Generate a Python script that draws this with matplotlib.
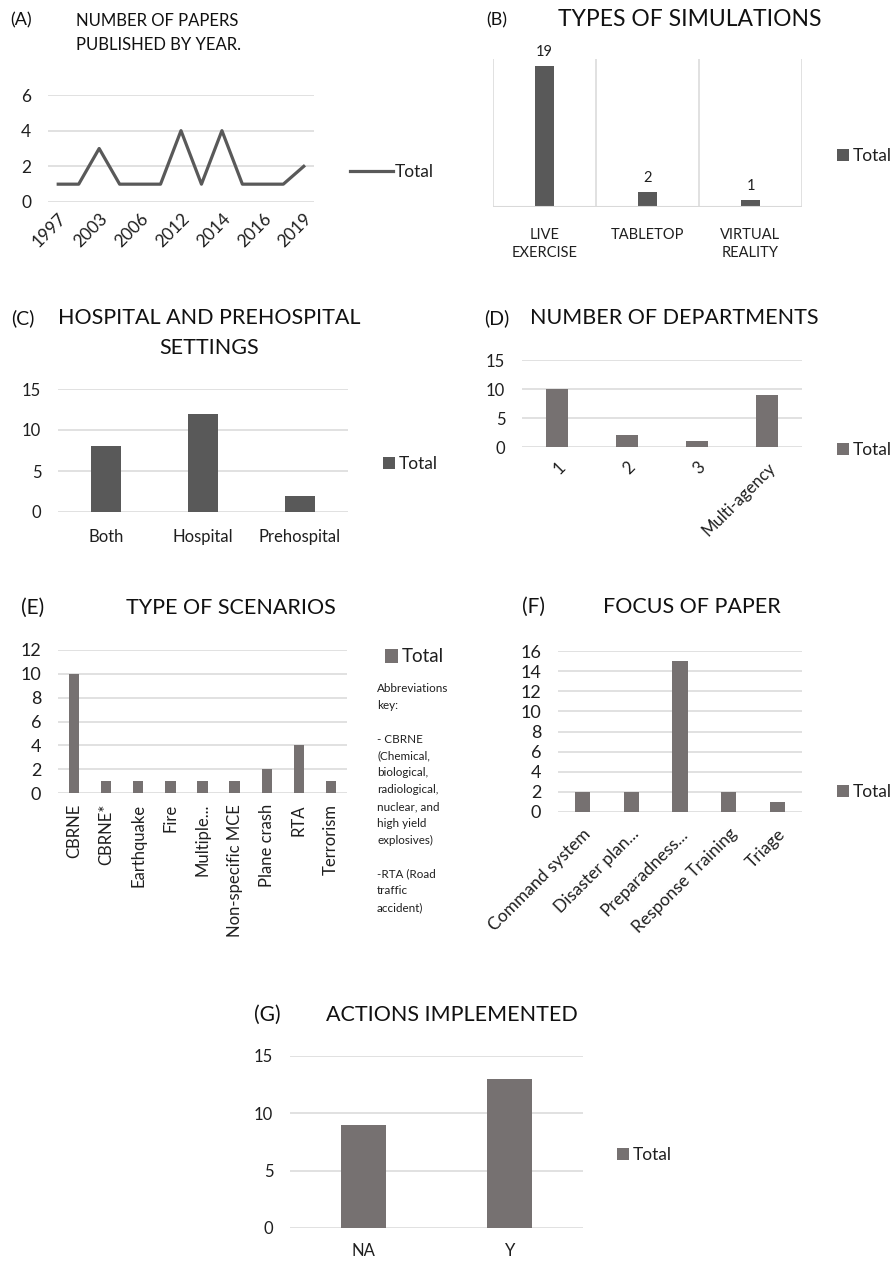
import numpy as np
import matplotlib
matplotlib.use('Agg')
import matplotlib.pyplot as plt

plt.rcParams['font.family'] = ['Lato', 'DejaVu Sans']

# ---- data ----
years = ['1997', '2001', '2003', '2005', '2006', '2010', '2012',
         '2013', '2014', '2015', '2016', '2018', '2019']
papers = [1, 1, 3, 1, 1, 1, 4, 1, 4, 1, 1, 1, 2]

sim_types = ['LIVE\nEXERCISE', 'TABLETOP', 'VIRTUAL\nREALITY']
sim_counts = [19, 2, 1]

settings = ['Both', 'Hospital', 'Prehospital']
settings_counts = [8, 12, 2]

departments = ['1', '2', '3', 'Multi-agency']
dept_counts = [10, 2, 1, 9]

scenarios = ['CBRNE', 'CBRNE*', 'Earthquake', 'Fire', 'Multiple...',
             'Non-specific MCE', 'Plane crash', 'RTA', 'Terrorism']
scenario_counts = [10, 1, 1, 1, 1, 1, 2, 4, 1]

focus = ['Command system', 'Disaster plan...', 'Preparadness...',
         'Response Training', 'Triage']
focus_counts = [2, 2, 15, 2, 1]

actions = ['NA', 'Y']
action_counts = [9, 13]

abbrev = ("Abbreviations\nkey:\n\n- CBRNE\n(Chemical,\nbiological,\n"
          "radiological,\nnuclear, and\nhigh yield\nexplosives)\n\n"
          "-RTA (Road\ntraffic\naccident)")

# ---- layout helpers ----
W, H = 891, 1261
DARK = '#595959'
BROWN = '#767171'
GRID = '#d9d9d9'
TXT = '#1f1f1f'

fig = plt.figure(figsize=(W / 100, H / 100), dpi=100)


def make_ax(left, top, right, bottom):
    return fig.add_axes([left / W, 1 - bottom / H, (right - left) / W, (bottom - top) / H])


def fx(x):
    return x / W


def fy(y):
    return 1 - y / H


def style(ax, ymax, step, tick_size=12):
    ax.set_ylim(0, ymax)
    ax.set_yticks(np.arange(0, ymax + 0.1, step))
    ax.yaxis.grid(True, color=GRID, lw=1.1)
    ax.set_axisbelow(True)
    for s in ax.spines.values():
        s.set_visible(False)
    ax.tick_params(length=0, labelsize=tick_size, colors=TXT)
    ax.tick_params(axis='y', pad=12)


def legend(ax, x, y, size=12.5):
    ax.legend(loc='center left', bbox_to_anchor=(fx(x), fy(y)),
              bbox_transform=fig.transFigure, frameon=False, fontsize=size,
              handlelength=0.7, handleheight=0.7, handletextpad=0.2,
              borderpad=0, borderaxespad=0, labelcolor=TXT)


def title(x, y, txt, size=13, ha='center'):
    fig.text(fx(x), fy(y), txt, ha=ha, va='center', fontsize=size, color='#111111')


# (A) line chart
ax = make_ax(48, 95, 314, 202)
xi = np.arange(len(years))
ax.plot(xi, papers, color=DARK, lw=2.3, label='Total')
ax.set_xlim(-0.5, len(years) - 0.5)
style(ax, 6, 2, 12.5)
ax.set_xticks(xi[::2])
ax.set_xticklabels(years[::2], rotation=45, ha='right', rotation_mode='anchor')
ax.tick_params(axis='x', pad=6)
ax.legend(loc='center left', bbox_to_anchor=(fx(350), fy(172)),
          bbox_transform=fig.transFigure, frameon=False, fontsize=12.5,
          handlelength=2.5, handletextpad=0.1, borderpad=0, borderaxespad=0,
          labelcolor=TXT)
title(10, 20, '(A)', 13, 'left')
title(76, 21, 'NUMBER OF PAPERS', 12, 'left')
title(76, 45, 'PUBLISHED BY YEAR.', 12, 'left')

# (B) types of simulations
ax = make_ax(493, 59, 802, 207)
xb = np.arange(len(sim_types))
bars = ax.bar(xb, sim_counts, width=0.18, color=DARK, label='Total')
ax.bar_label(bars, padding=5, fontsize=10.5, color=TXT)
ax.set_xlim(-0.5, len(sim_types) - 0.5)
ax.set_ylim(0, 20)
ax.set_yticks([])
for s in ax.spines.values():
    s.set_visible(False)
for b in np.arange(-0.5, len(sim_types), 1.0):
    ax.axvline(b, color=GRID, lw=1.1)
ax.axhline(0, color=GRID, lw=1.5)
ax.set_xticks(xb)
ax.set_xticklabels(sim_types, va='top', fontsize=10.5, linespacing=1.35)
ax.tick_params(length=0, pad=15, colors=TXT)
legend(ax, 837, 156)
title(486, 20, '(B)', 13, 'left')
title(690, 19, 'TYPES OF SIMULATIONS', 16.5)

# (C) hospital and prehospital settings
ax = make_ax(58, 389, 348, 512)
xc = np.arange(len(settings))
ax.bar(xc, settings_counts, width=0.31, color=DARK, label='Total')
ax.set_xlim(-0.5, len(settings) - 0.5)
style(ax, 15, 5, 12)
ax.set_xticks(xc)
ax.set_xticklabels(settings)
ax.tick_params(axis='x', pad=12)
legend(ax, 383, 464)
title(11, 318, '(C)', 14, 'left')
title(209, 318, 'HOSPITAL AND PREHOSPITAL', 15.5)
title(209, 348, 'SETTINGS', 15.5)

# (D) number of departments
ax = make_ax(522, 360, 802, 447)
xd = np.arange(len(departments))
ax.bar(xd, dept_counts, width=0.31, color=BROWN, label='Total')
ax.set_xlim(-0.5, len(departments) - 0.5)
style(ax, 15, 5, 12)
ax.set_xticks(xd)
ax.set_xticklabels(departments, rotation=45, ha='right', rotation_mode='anchor')
ax.tick_params(axis='x', pad=9)
legend(ax, 837, 450)
title(484, 318, '(D)', 14, 'left')
title(674, 318, 'NUMBER OF DEPARTMENTS', 15.5)

# (E) type of scenarios
ax = make_ax(58, 650, 347, 793)
xe = np.arange(len(scenarios))
ax.bar(xe, scenario_counts, width=0.32, color=BROWN, label='Total')
ax.set_xlim(-0.5, len(scenarios) - 0.5)
style(ax, 12, 2, 13)
ax.set_xticks(xe)
ax.set_xticklabels(scenarios, rotation=90, fontsize=12)
ax.tick_params(axis='x', pad=8)
legend(ax, 385, 657, 13.5)
fig.text(fx(377), fy(683), abbrev, ha='left', va='top', fontsize=8.4,
         linespacing=1.65, color=TXT)
title(21, 608, '(E)', 15, 'left')
title(231, 608, 'TYPE OF SCENARIOS', 15.5)

# (F) focus of paper
ax = make_ax(558, 651, 802, 812)
xf = np.arange(len(focus))
ax.bar(xf, focus_counts, width=0.31, color=BROWN, label='Total')
ax.set_xlim(-0.5, len(focus) - 0.5)
style(ax, 16, 2, 13)
ax.set_xticks(xf)
ax.set_xticklabels(focus, rotation=45, ha='right', rotation_mode='anchor', fontsize=12.5)
ax.tick_params(axis='x', pad=10)
legend(ax, 837, 792)
title(522, 607, '(F)', 15, 'left')
title(692, 607, 'FOCUS OF PAPER', 15.5)

# (G) actions implemented
ax = make_ax(290, 1056, 583, 1228)
xg = np.arange(len(actions))
ax.bar(xg, action_counts, width=0.31, color=BROWN, label='Total')
ax.set_xlim(-0.5, len(actions) - 0.5)
style(ax, 15, 5, 12)
ax.set_xticks(xg)
ax.set_xticklabels(actions)
ax.tick_params(axis='x', pad=11)
legend(ax, 617, 1155)
title(254, 1015, '(G)', 15, 'left')
title(452, 1015, 'ACTIONS IMPLEMENTED', 15.5)

fig.savefig('out.png', dpi=100, facecolor='white')
